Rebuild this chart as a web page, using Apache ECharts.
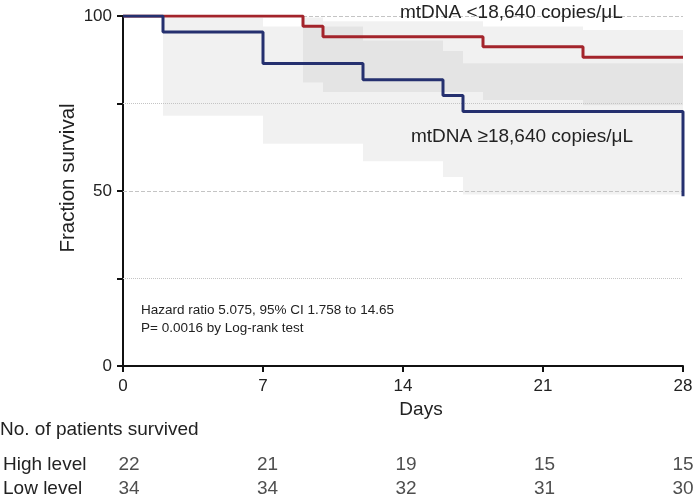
<!DOCTYPE html>
<html>
<head>
<meta charset="utf-8">
<script src="https://cdn.jsdelivr.net/npm/echarts@6/dist/echarts.min.js"></script>
<style>html,body{margin:0;padding:0;background:#fff;}#c{width:698px;height:501px;}</style>
</head>
<body>
<div id="c"></div>
<script>
// Kaplan-Meier step data [day, fraction survival %]
const lowLevelCurve = [[0,100],[9,97.1],[10,94.1],[18,91.2],[23,88.2],[28,88.2]];
const highLevelCurve = [[0,100],[2,95.45],[7,86.4],[12,81.8],[16,77.3],[17,72.7],[28,48.5]];
// Confidence bands [startDay, endDay, upper, lower]
const lowLevelBand = [[9,10,99.6,81],[10,18,98.5,78.3],[18,23,97,76],[23,28,96,74.5]];
const highLevelBand = [[2,7,99.5,71.5],[7,12,97,63.5],[12,16,93,58.5],[16,17,90,54],[17,28,86.5,49]];
// Reference lines
const refLines = [[100,'dashed'],[75,'dotted'],[50,'dashed'],[25,'dotted']];
// Number-at-risk table
const tableDays = [0,7,14,21,28];
const highLevelAtRisk = [22,21,19,15,15];
const lowLevelAtRisk = [34,34,32,31,30];
const rowNames = ['Low level','High level'];

const FONT = 'Liberation Sans, Arial, sans-serif';
const TXT = '#222';

function bandSeries(data) {
  return {
    type: 'custom',
    xAxisIndex: 0, yAxisIndex: 0,
    silent: true,
    z: 1,
    data: data,
    renderItem: function (params, api) {
      const p0 = api.coord([api.value(0), api.value(2)]);
      const p1 = api.coord([api.value(1), api.value(3)]);
      return {
        type: 'rect',
        shape: {x: p0[0], y: p0[1], width: p1[0]-p0[0], height: p1[1]-p0[1]},
        style: {fill: 'rgba(0,0,0,0.055)'}
      };
    }
  };
}

const tableData = [];
tableDays.forEach((d,i) => {
  tableData.push([d, 'High level', highLevelAtRisk[i]]);
  tableData.push([d, 'Low level', lowLevelAtRisk[i]]);
});

const chart = echarts.init(document.getElementById('c'), null, {renderer: 'canvas'});
chart.setOption({
  animation: false,
  textStyle: {fontFamily: FONT},
  grid: [
    {left: 123, right: 15, top: 16, bottom: 135},
    {left: 123, right: 15, top: 453, height: 58}
  ],
  xAxis: [
    {
      type: 'value', gridIndex: 0, min: 0, max: 28, interval: 7,
      name: 'Days', nameLocation: 'middle', nameGap: 34,
      nameTextStyle: {fontSize: 19, color: TXT, fontFamily: FONT, padding: [0,0,0,36]},
      axisLine: {lineStyle: {color: '#111', width: 2}},
      axisTick: {length: 6, lineStyle: {color: '#111', width: 2}},
      axisLabel: {fontSize: 17, color: TXT, margin: 12, fontFamily: FONT},
      splitLine: {show: false}
    },
    {
      type: 'value', gridIndex: 1, min: 0, max: 28, interval: 7, show: false
    }
  ],
  yAxis: [
    {
      type: 'value', gridIndex: 0, min: 0, max: 100, interval: 25,
      axisLine: {show: true, lineStyle: {color: '#111', width: 2}},
      axisTick: {show: true, length: 6, lineStyle: {color: '#111', width: 2}},
      axisLabel: {fontSize: 17, color: TXT, margin: 11, fontFamily: FONT,
        formatter: v => (v % 50 === 0 ? String(v) : '')},
      splitLine: {show: false}
    },
    {
      type: 'category', gridIndex: 1, data: rowNames,
      axisLine: {show: false}, axisTick: {show: false},
      axisLabel: {interval: 0, hideOverlap: false, fontSize: 19, color: TXT, align: 'left', margin: 126, fontFamily: FONT}
    }
  ],
  graphic: [
    {type: 'text', x: 68, y: 178, rotation: Math.PI / 2,
      style: {text: 'Fraction survival', font: '20.5px ' + FONT, fill: TXT, align: 'center', verticalAlign: 'middle'}},
    {type: 'text', left: 0, top: 420, style: {text: 'No. of patients survived', font: '19px ' + FONT, fill: TXT}},
    {type: 'text', left: 400, top: 3, z: 100, style: {text: 'mtDNA <18,640 copies/μL', font: '19px ' + FONT, fill: TXT}},
    {type: 'text', left: 411, top: 127, z: 100, style: {text: 'mtDNA ≥18,640 copies/μL', font: '19px ' + FONT, fill: TXT}},
    {type: 'text', left: 141, top: 303, z: 100, style: {text: 'Hazard ratio 5.075, 95% CI 1.758 to 14.65', font: '13.5px ' + FONT, fill: TXT}},
    {type: 'text', left: 141, top: 321, z: 100, style: {text: 'P= 0.0016 by Log-rank test', font: '13.5px ' + FONT, fill: TXT}}
  ],
  series: [
    bandSeries(highLevelBand),
    bandSeries(lowLevelBand),
    {
      type: 'line', xAxisIndex: 0, yAxisIndex: 0, data: [], silent: true,
      markLine: {
        silent: true, symbol: 'none', label: {show: false},
        data: refLines.map(r => ({yAxis: r[0], lineStyle: {type: r[1], color: '#c4c4c4', width: 1}}))
      }
    },
    {
      type: 'line', xAxisIndex: 0, yAxisIndex: 0, step: 'end', data: lowLevelCurve,
      showSymbol: false, z: 5,
      lineStyle: {color: '#a3242b', width: 3}
    },
    {
      type: 'line', xAxisIndex: 0, yAxisIndex: 0, step: 'end', data: highLevelCurve,
      showSymbol: false, z: 6,
      lineStyle: {color: '#25306f', width: 3}
    },
    {
      type: 'scatter', xAxisIndex: 1, yAxisIndex: 1, data: tableData, symbolSize: 0,
      silent: true,
      label: {show: true, position: 'inside', fontSize: 19, color: TXT, fontFamily: FONT,
        formatter: p => String(p.value[2])}
    }
  ]
});
</script>
</body>
</html>
